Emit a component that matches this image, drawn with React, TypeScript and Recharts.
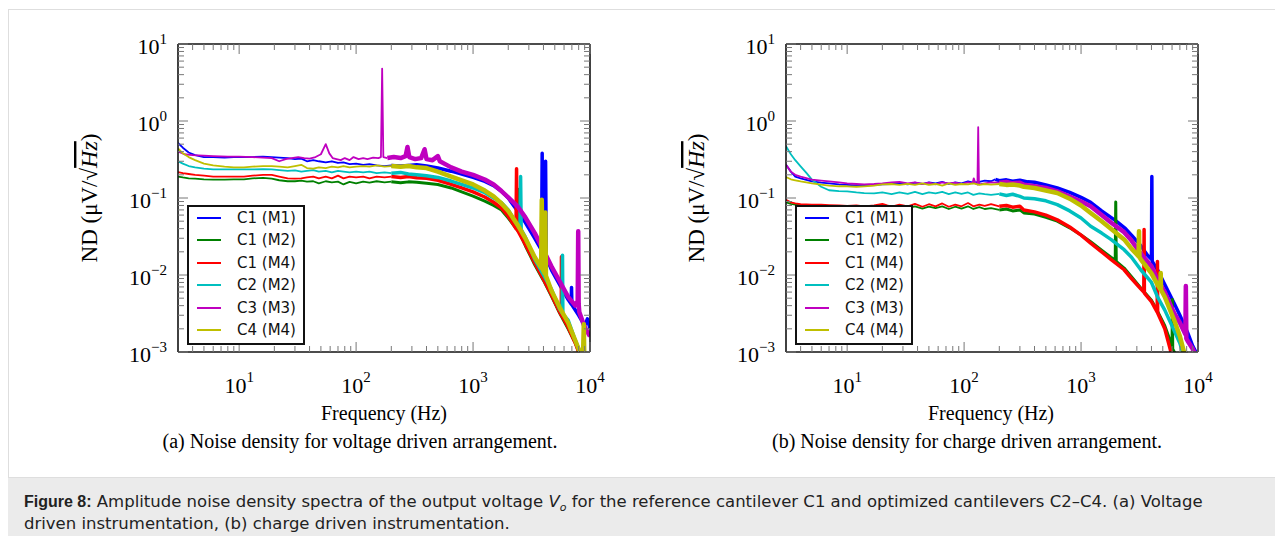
import React from 'react';
import { LineChart, Line, XAxis, YAxis, Legend } from 'recharts';

type Pt = [number, number];

// series order, names and colours (matplotlib classic b, g, r, c, m, y)
const SERIES_NAMES = ['C1 (M1)', 'C1 (M2)', 'C1 (M4)', 'C2 (M2)', 'C3 (M3)', 'C4 (M4)'];
const SERIES_COLORS = ['#0000ff', '#008000', '#ff0000', '#00bfbf', '#bf00bf', '#bfbf00'];
// above this frequency the measured traces are dense noise and look like a band
const BAND_FROM = 180;
const BAND_WIDTHS = [3.5, 3, 3.5, 3.5, 4.5, 4.5];

const X_MAJORS = [10, 100, 1000, 10000];
const X_EXPONENTS = ['1', '2', '3', '4'];
const Y_MAJORS = [0.001, 0.01, 0.1, 1, 10];
const Y_EXPONENTS = ['\u22123', '\u22122', '\u22121', '0', '1'];
const MINOR_STEPS = [2, 3, 4, 5, 6, 7, 8, 9];

// (a) voltage driven, [frequency Hz, ND µV/√Hz]
const voltC1M1: Pt[] = [[3, 0.52], [3.3, 0.45], [3.7, 0.39], [4.2, 0.36], [5, 0.34], [6, 0.34], [7.5, 0.335], [9, 0.34], [11, 0.34], [13, 0.34], [16, 0.345], [19, 0.34], [22, 0.335], [26, 0.33], [30, 0.32], [34, 0.325], [38, 0.3], [43, 0.31], [48, 0.3], [55, 0.29], [62, 0.3], [70, 0.285], [78, 0.29], [88, 0.275], [100, 0.28], [115, 0.27], [130, 0.275], [150, 0.265], [175, 0.26], [200, 0.265], [240, 0.26], [280, 0.265], [330, 0.27], [400, 0.26], [500, 0.245], [650, 0.223], [800, 0.205], [1000, 0.185], [1260, 0.164], [1500, 0.145], [1750, 0.122], [2000, 0.1], [2400, 0.068], [2800, 0.048], [3370, 0.03], [3850, 0.021], [3900, 0.38], [3950, 0.02], [4100, 0.018], [4170, 0.3], [4230, 0.017], [4700, 0.0115], [5500, 0.0075], [6500, 0.0048], [6900, 0.0042], [6950, 0.0069], [7000, 0.0041], [8000, 0.003], [9000, 0.0022], [9500, 0.0027], [10000, 0.002]];
const voltC1M2: Pt[] = [[3, 0.19], [3.3, 0.185], [3.7, 0.18], [4.2, 0.178], [5, 0.175], [6, 0.173], [7.5, 0.173], [9, 0.175], [11, 0.175], [13, 0.18], [16, 0.182], [19, 0.178], [22, 0.17], [26, 0.165], [30, 0.165], [34, 0.168], [38, 0.163], [43, 0.165], [48, 0.155], [55, 0.165], [62, 0.16], [70, 0.163], [78, 0.15], [88, 0.162], [100, 0.155], [115, 0.163], [130, 0.158], [150, 0.165], [175, 0.16], [200, 0.163], [240, 0.158], [280, 0.162], [330, 0.16], [400, 0.155], [500, 0.15], [650, 0.135], [800, 0.12], [1000, 0.106], [1260, 0.091], [1500, 0.08], [1750, 0.07], [2000, 0.055], [2400, 0.038], [2430, 0.13], [2460, 0.037], [2800, 0.024], [3370, 0.0136], [4000, 0.0085], [4690, 0.0053], [5500, 0.0032], [6500, 0.002], [7500, 0.0013], [8000, 0.001], [9000, 0.0007], [10000, 0.0005]];
const voltC1M4: Pt[] = [[3, 0.217], [3.3, 0.21], [3.7, 0.205], [4.2, 0.2], [5, 0.195], [6, 0.19], [7.5, 0.19], [9, 0.19], [11, 0.19], [13, 0.195], [16, 0.2], [19, 0.2], [22, 0.19], [26, 0.18], [30, 0.178], [34, 0.18], [38, 0.185], [43, 0.19], [48, 0.18], [55, 0.19], [62, 0.18], [70, 0.195], [78, 0.18], [88, 0.19], [100, 0.185], [115, 0.19], [130, 0.18], [150, 0.19], [175, 0.185], [200, 0.19], [240, 0.185], [280, 0.19], [330, 0.183], [400, 0.18], [500, 0.17], [650, 0.15], [800, 0.135], [1000, 0.12], [1260, 0.103], [1500, 0.088], [1750, 0.074], [2000, 0.058], [2330, 0.04], [2355, 0.24], [2380, 0.039], [2800, 0.025], [3370, 0.0143], [4000, 0.0088], [4690, 0.0055], [5500, 0.0033], [5680, 0.003], [5700, 0.0173], [5720, 0.003], [6500, 0.0021], [7500, 0.0013], [8000, 0.001], [9000, 0.0007], [10000, 0.0005]];
const voltC2M2: Pt[] = [[3, 0.3], [3.3, 0.28], [3.7, 0.26], [4.2, 0.25], [5, 0.24], [6, 0.235], [7.5, 0.235], [9, 0.235], [11, 0.235], [13, 0.235], [16, 0.237], [19, 0.235], [22, 0.23], [26, 0.225], [30, 0.228], [34, 0.22], [38, 0.225], [43, 0.23], [48, 0.22], [55, 0.225], [62, 0.215], [70, 0.225], [78, 0.22], [88, 0.215], [100, 0.22], [115, 0.215], [130, 0.22], [150, 0.21], [175, 0.215], [200, 0.21], [240, 0.215], [280, 0.205], [330, 0.2], [400, 0.195], [500, 0.185], [650, 0.166], [800, 0.15], [1000, 0.135], [1260, 0.117], [1500, 0.1], [1750, 0.087], [2000, 0.07], [2400, 0.044], [2520, 0.04], [2550, 0.19], [2580, 0.039], [2800, 0.031], [3370, 0.016], [4000, 0.01], [4690, 0.0065], [5500, 0.0036], [5780, 0.0032], [5820, 0.018], [5860, 0.0031], [6500, 0.0026], [7380, 0.0015], [8200, 0.001], [9000, 0.0007], [10000, 0.0005]];
const voltC3M3: Pt[] = [[3, 0.4], [3.4, 0.37], [4, 0.36], [5, 0.355], [6, 0.35], [8, 0.345], [10, 0.345], [13, 0.34], [16, 0.335], [19, 0.33], [22, 0.3], [25, 0.32], [28, 0.33], [32, 0.34], [36, 0.33], [40, 0.325], [45, 0.34], [50, 0.37], [55, 0.5], [59, 0.38], [63, 0.33], [68, 0.32], [74, 0.31], [80, 0.33], [88, 0.31], [95, 0.34], [105, 0.32], [115, 0.33], [125, 0.32], [140, 0.335], [155, 0.33], [163, 0.34], [167, 4.8], [171, 0.34], [185, 0.33], [210, 0.34], [240, 0.33], [265, 0.35], [275, 0.46], [285, 0.34], [320, 0.32], [360, 0.33], [385, 0.43], [400, 0.32], [450, 0.31], [500, 0.35], [520, 0.3], [650, 0.25], [800, 0.22], [1000, 0.2], [1260, 0.174], [1500, 0.15], [1750, 0.123], [2000, 0.102], [2400, 0.078], [2800, 0.056], [3370, 0.035], [4000, 0.021], [4690, 0.0129], [5500, 0.0083], [6500, 0.0052], [7500, 0.004], [7850, 0.0046], [7930, 0.037], [8000, 0.0042], [8100, 0.0033], [9000, 0.0021], [10000, 0.0016]];
const voltC4M4: Pt[] = [[3, 0.44], [3.3, 0.38], [3.7, 0.34], [4.2, 0.31], [5, 0.28], [6, 0.265], [7.5, 0.255], [9, 0.25], [11, 0.25], [13, 0.255], [16, 0.26], [19, 0.26], [22, 0.255], [26, 0.25], [30, 0.26], [34, 0.27], [38, 0.245], [43, 0.24], [48, 0.25], [55, 0.245], [62, 0.255], [70, 0.25], [78, 0.26], [88, 0.25], [100, 0.255], [115, 0.26], [130, 0.255], [150, 0.265], [175, 0.255], [200, 0.26], [240, 0.255], [280, 0.26], [330, 0.25], [400, 0.245], [500, 0.22], [650, 0.19], [800, 0.17], [1000, 0.15], [1260, 0.125], [1500, 0.105], [1750, 0.085], [2000, 0.068], [2400, 0.045], [2800, 0.03], [3370, 0.017], [3820, 0.0125], [3870, 0.095], [3920, 0.012], [4100, 0.0105], [4150, 0.065], [4200, 0.0098], [4690, 0.0062], [5500, 0.0038], [6500, 0.0024], [7500, 0.0014], [8180, 0.001], [8700, 0.0008], [8850, 0.0023], [8950, 0.0007], [10000, 0.0004]];

// (b) charge driven
const chargeC1M1: Pt[] = [[3, 0.27], [3.3, 0.22], [3.6, 0.19], [4, 0.18], [5, 0.164], [6, 0.158], [7, 0.155], [8.5, 0.15], [10, 0.148], [12, 0.146], [14, 0.145], [17, 0.147], [20, 0.15], [24, 0.152], [28, 0.155], [33, 0.15], [38, 0.158], [44, 0.152], [50, 0.16], [57, 0.155], [65, 0.162], [74, 0.152], [84, 0.16], [95, 0.155], [108, 0.165], [120, 0.158], [135, 0.162], [150, 0.168], [170, 0.165], [185, 0.175], [200, 0.168], [230, 0.172], [260, 0.165], [300, 0.17], [350, 0.162], [400, 0.16], [500, 0.148], [626, 0.135], [800, 0.118], [1000, 0.102], [1208, 0.088], [1500, 0.068], [1800, 0.056], [2000, 0.05], [2400, 0.04], [2700, 0.033], [3240, 0.024], [3700, 0.018], [4000, 0.016], [4030, 0.19], [4060, 0.015], [4505, 0.0117], [5200, 0.0075], [6250, 0.0043], [7000, 0.003], [8140, 0.0018], [9000, 0.0012], [9600, 0.001], [10000, 0.0008]];
const chargeC1M2: Pt[] = [[3, 0.088], [3.3, 0.084], [3.6, 0.082], [4, 0.081], [5, 0.08], [6, 0.08], [7, 0.079], [8.5, 0.079], [10, 0.078], [12, 0.079], [14, 0.077], [17, 0.078], [20, 0.08], [24, 0.075], [28, 0.079], [33, 0.074], [38, 0.078], [44, 0.073], [50, 0.077], [57, 0.074], [65, 0.078], [74, 0.072], [84, 0.077], [95, 0.073], [108, 0.078], [120, 0.072], [135, 0.076], [150, 0.072], [170, 0.074], [200, 0.07], [230, 0.072], [260, 0.068], [300, 0.07], [324, 0.064], [400, 0.062], [500, 0.056], [626, 0.05], [800, 0.041], [1000, 0.033], [1208, 0.027], [1500, 0.021], [1800, 0.017], [1960, 0.0155], [1980, 0.089], [2000, 0.015], [2335, 0.0123], [2700, 0.0095], [3240, 0.0068], [4000, 0.0047], [4505, 0.0034], [5200, 0.0022], [6000, 0.0012], [6040, 0.0048], [6080, 0.0011], [6500, 0.0009], [8000, 0.0005]];
const chargeC1M4: Pt[] = [[3, 0.095], [3.3, 0.088], [3.6, 0.085], [4, 0.083], [5, 0.082], [6, 0.082], [7, 0.081], [8.5, 0.08], [10, 0.079], [12, 0.08], [14, 0.078], [17, 0.08], [20, 0.084], [22, 0.08], [24, 0.077], [28, 0.082], [33, 0.078], [38, 0.084], [44, 0.077], [50, 0.083], [57, 0.078], [65, 0.085], [74, 0.077], [84, 0.082], [95, 0.078], [108, 0.086], [120, 0.078], [135, 0.082], [150, 0.079], [170, 0.083], [200, 0.078], [230, 0.08], [260, 0.076], [300, 0.078], [324, 0.07], [400, 0.066], [500, 0.06], [626, 0.052], [800, 0.042], [1000, 0.033], [1208, 0.026], [1500, 0.02], [1800, 0.016], [2335, 0.0117], [2700, 0.009], [3240, 0.0066], [3440, 0.006], [3460, 0.039], [3480, 0.0058], [4000, 0.0045], [4480, 0.0033], [4500, 0.015], [4520, 0.0032], [5200, 0.002], [5870, 0.001], [7000, 0.0005]];
const chargeC2M2: Pt[] = [[3, 0.47], [3.3, 0.37], [3.6, 0.31], [4, 0.258], [4.5, 0.21], [5, 0.173], [6, 0.14], [7, 0.126], [8.5, 0.123], [10, 0.122], [12, 0.118], [14, 0.116], [17, 0.115], [20, 0.118], [24, 0.112], [28, 0.118], [33, 0.113], [38, 0.12], [44, 0.112], [50, 0.118], [57, 0.115], [65, 0.12], [74, 0.112], [84, 0.118], [95, 0.113], [108, 0.118], [120, 0.11], [135, 0.115], [150, 0.112], [170, 0.11], [200, 0.113], [230, 0.108], [260, 0.112], [300, 0.105], [324, 0.1], [400, 0.098], [500, 0.092], [626, 0.082], [800, 0.068], [1000, 0.055], [1208, 0.043], [1500, 0.035], [1800, 0.029], [2335, 0.0213], [2700, 0.017], [3240, 0.0117], [4000, 0.008], [4505, 0.0052], [5200, 0.0035], [6250, 0.0019], [7000, 0.0013], [7380, 0.001], [8500, 0.0006], [10000, 0.0004]];
const chargeC3M3: Pt[] = [[3, 0.27], [3.3, 0.22], [3.6, 0.2], [4, 0.19], [5, 0.173], [6, 0.168], [7, 0.164], [8.5, 0.16], [10, 0.155], [12, 0.152], [14, 0.15], [17, 0.152], [20, 0.155], [24, 0.16], [28, 0.162], [33, 0.155], [38, 0.16], [44, 0.152], [50, 0.158], [57, 0.15], [65, 0.16], [74, 0.155], [84, 0.158], [95, 0.152], [108, 0.16], [118, 0.155], [121, 0.18], [125, 0.155], [130, 0.15], [132, 0.83], [134, 0.15], [150, 0.155], [170, 0.16], [200, 0.158], [230, 0.162], [260, 0.155], [300, 0.158], [324, 0.149], [400, 0.142], [500, 0.135], [626, 0.122], [800, 0.104], [1000, 0.09], [1208, 0.078], [1500, 0.06], [1800, 0.048], [2335, 0.036], [2700, 0.028], [3240, 0.019], [4000, 0.013], [4505, 0.0087], [5200, 0.006], [6250, 0.0032], [7000, 0.0024], [7800, 0.0017], [7870, 0.0072], [7950, 0.0015], [8140, 0.0014], [9000, 0.0011], [9600, 0.0009], [10000, 0.0008]];
const chargeC4M4: Pt[] = [[3, 0.187], [3.3, 0.175], [3.6, 0.17], [4, 0.164], [5, 0.155], [6, 0.149], [7, 0.145], [8.5, 0.142], [10, 0.142], [12, 0.14], [14, 0.142], [17, 0.145], [20, 0.15], [24, 0.152], [28, 0.148], [33, 0.153], [38, 0.148], [44, 0.155], [50, 0.148], [57, 0.152], [65, 0.145], [74, 0.155], [84, 0.148], [95, 0.152], [108, 0.15], [120, 0.155], [135, 0.148], [150, 0.152], [170, 0.149], [200, 0.152], [230, 0.148], [260, 0.15], [300, 0.145], [324, 0.14], [400, 0.135], [500, 0.125], [626, 0.116], [800, 0.098], [1000, 0.08], [1208, 0.064], [1500, 0.05], [1800, 0.04], [2335, 0.029], [2700, 0.022], [3100, 0.0175], [3130, 0.037], [3160, 0.017], [3240, 0.016], [4000, 0.0105], [4505, 0.0075], [4770, 0.0065], [4800, 0.0106], [4830, 0.0064], [5200, 0.0052], [6250, 0.0026], [7000, 0.0016], [7590, 0.001], [8500, 0.0007], [10000, 0.0004]];

const VOLT_SERIES = [voltC1M1, voltC1M2, voltC1M4, voltC2M2, voltC3M3, voltC4M4];
const CHARGE_SERIES = [chargeC1M1, chargeC1M2, chargeC1M4, chargeC2M2, chargeC3M3, chargeC4M4];

const SERIF = '"Liberation Serif", "Times New Roman", serif';
const X_TICKS = [...X_MAJORS, ...[1, 10, 100, 1000].flatMap(d => MINOR_STEPS.map(m => d * m))].filter(v => v > 3 && v <= 10000);
const Y_TICKS = [...Y_MAJORS, ...[0.001, 0.01, 0.1, 1].flatMap(d => MINOR_STEPS.map(m => +(d * m).toPrecision(3)))];
const MAJOR_LEN = 10;
const MINOR_LEN = 6;
const TICK_COLOR = '#777';

const bottomTick = (p: any) => {
  const k = X_MAJORS.indexOf(p.payload.value);
  return (
    <g>
      <line x1={p.x} x2={p.x} y1={p.y} y2={p.y - (k >= 0 ? MAJOR_LEN : MINOR_LEN)} stroke={TICK_COLOR} />
      {k >= 0 && (
        <text x={p.x} y={p.y + 41} textAnchor="middle" fontFamily={SERIF} fontSize={22} fill="#000">
          10<tspan dy={-11} fontSize={15}>{X_EXPONENTS[k]}</tspan>
        </text>
      )}
    </g>
  );
};
const topTick = (p: any) => {
  const k = X_MAJORS.indexOf(p.payload.value);
  return <line x1={p.x} x2={p.x} y1={p.y} y2={p.y + (k >= 0 ? MAJOR_LEN : MINOR_LEN)} stroke={TICK_COLOR} />;
};
const leftTick = (p: any) => {
  const k = Y_MAJORS.indexOf(p.payload.value);
  return (
    <g>
      <line x1={p.x} x2={p.x + (k >= 0 ? MAJOR_LEN : MINOR_LEN)} y1={p.y} y2={p.y} stroke={TICK_COLOR} />
      {k >= 0 && (
        <text x={p.x - 11} y={p.y + 10} textAnchor="end" fontFamily={SERIF} fontSize={22} fill="#000">
          10<tspan dy={-10} fontSize={15}>{Y_EXPONENTS[k]}</tspan>
        </text>
      )}
    </g>
  );
};
const rightTick = (p: any) => {
  const k = Y_MAJORS.indexOf(p.payload.value);
  return <line x1={p.x} x2={p.x - (k >= 0 ? MAJOR_LEN : MINOR_LEN)} y1={p.y} y2={p.y} stroke={TICK_COLOR} />;
};

const LegendBox = () => (
  <div style={{ position: 'relative', width: 118, height: 140, boxSizing: 'border-box', border: '2px solid #111', background: '#fff' }}>
    {SERIES_NAMES.map((name, i) => (
      <div key={name} style={{ position: 'absolute', left: 8, top: 10.7 + i * 22.46 - 10, height: 20, display: 'flex', alignItems: 'center', whiteSpace: 'nowrap' }}>
        <span style={{ display: 'inline-block', width: 24, height: 2, background: SERIES_COLORS[i] }} />
        <span style={{ marginLeft: 16, fontFamily: '"DejaVu Sans", sans-serif', fontSize: 15, color: '#111' }}>{name}</span>
      </div>
    ))}
  </div>
);

const toRows = (pts: Pt[]) => pts.map(([f, v]) => ({ f, v }));

function NoisePanel({ series, left }: { series: Pt[][]; left: number }) {
  const axisLine = { stroke: '#111', strokeWidth: 1.6 };
  return (
    <div style={{ position: 'absolute', left, top: 20 }}>
      <LineChart width={520} height={420} margin={{ top: 23, right: 29, bottom: 87, left: 77 }}>
        <XAxis xAxisId={0} type="number" dataKey="f" scale="log" domain={[3, 10000]} allowDataOverflow ticks={X_TICKS} interval={0}
          height={1} tickSize={0} tickMargin={0} tickLine={false} axisLine={axisLine} tick={bottomTick} />
        <XAxis xAxisId="top" orientation="top" type="number" dataKey="f" scale="log" domain={[3, 10000]} allowDataOverflow ticks={X_TICKS} interval={0}
          height={1} tickSize={0} tickMargin={0} tickLine={false} axisLine={axisLine} tick={topTick} />
        <YAxis yAxisId={0} type="number" scale="log" domain={[0.001, 10]} allowDataOverflow ticks={Y_TICKS} interval={0}
          width={1} tickSize={0} tickMargin={0} tickLine={false} axisLine={axisLine} tick={leftTick} />
        <YAxis yAxisId="right" orientation="right" type="number" scale="log" domain={[0.001, 10]} allowDataOverflow ticks={Y_TICKS} interval={0}
          width={1} tickSize={0} tickMargin={0} tickLine={false} axisLine={axisLine} tick={rightTick} />
        {series.flatMap((pts, i) => {
          const cut = pts.findIndex(p => p[0] >= BAND_FROM);
          return [
            <Line key={`thin${i}`} data={toRows(pts.slice(0, cut + 1))} dataKey="v" stroke={SERIES_COLORS[i]} strokeWidth={1.8}
              strokeLinejoin="round" dot={false} activeDot={false} legendType="none" isAnimationActive={false} />,
            <Line key={`band${i}`} data={toRows(pts.slice(cut))} dataKey="v" stroke={SERIES_COLORS[i]} strokeWidth={BAND_WIDTHS[i]}
              strokeLinejoin="round" dot={false} activeDot={false} legendType="none" isAnimationActive={false} />,
          ];
        })}
        <Legend layout="vertical" align="center" verticalAlign="middle" content={LegendBox}
          wrapperStyle={{ left: 87, top: 185, width: 118, height: 140 }} />
      </LineChart>
    </div>
  );
}

const YLabel = ({ x }: { x: number }) => (
  <text transform={`translate(${x},198) rotate(-90)`} textAnchor="middle" fontFamily={SERIF} fontSize={23} fill="#000">
    ND (μV/√<tspan fontStyle="italic" fontSize={24} style={{ textDecoration: 'overline' }}>Hz</tspan>)
  </text>
);

export default function App() {
  return (
    <div style={{ position: 'absolute', left: 0, top: 0, width: 1275, height: 543, background: '#fff', overflow: 'hidden' }}>
      <div style={{ position: 'absolute', left: 8, top: 9, width: 1280, height: 469, boxSizing: 'border-box', border: '1px solid #dedede' }} />
      <svg width={1275} height={478} style={{ position: 'absolute', left: 0, top: 0 }}>
        <YLabel x={97} />
        <YLabel x={704} />
        <text x={384} y={420} textAnchor="middle" fontFamily={SERIF} fontSize={20} fill="#000">Frequency (Hz)</text>
        <text x={991} y={420} textAnchor="middle" fontFamily={SERIF} fontSize={20} fill="#000">Frequency (Hz)</text>
        <text x={360} y={448} textAnchor="middle" fontFamily={SERIF} fontSize={20} fill="#000">(a) Noise density for voltage driven arrangement.</text>
        <text x={967} y={448} textAnchor="middle" fontFamily={SERIF} fontSize={20} fill="#000">(b) Noise density for charge driven arrangement.</text>
      </svg>
      <NoisePanel series={VOLT_SERIES} left={100} />
      <NoisePanel series={CHARGE_SERIES} left={708} />
      <div style={{ position: 'absolute', left: 8, top: 478, width: 1275, height: 58, background: '#ebebeb' }} />
      <div style={{ position: 'absolute', left: 24, top: 491, width: 1245, fontFamily: '"DejaVu Sans", sans-serif', fontSize: 16.5, lineHeight: '22px', color: '#222', whiteSpace: 'nowrap' }}>
        <b style={{ fontFamily: '"Liberation Sans", Arial, sans-serif', fontSize: 16 }}>Figure 8:</b> Amplitude noise density spectra of the output voltage <i>V</i><sub style={{ fontStyle: 'italic', fontSize: 11, lineHeight: 0 }}>o</sub> for the reference cantilever C1 and optimized cantilevers C2–C4. (a) Voltage
        <br />driven instrumentation, (b) charge driven instrumentation.
      </div>
    </div>
  );
}
